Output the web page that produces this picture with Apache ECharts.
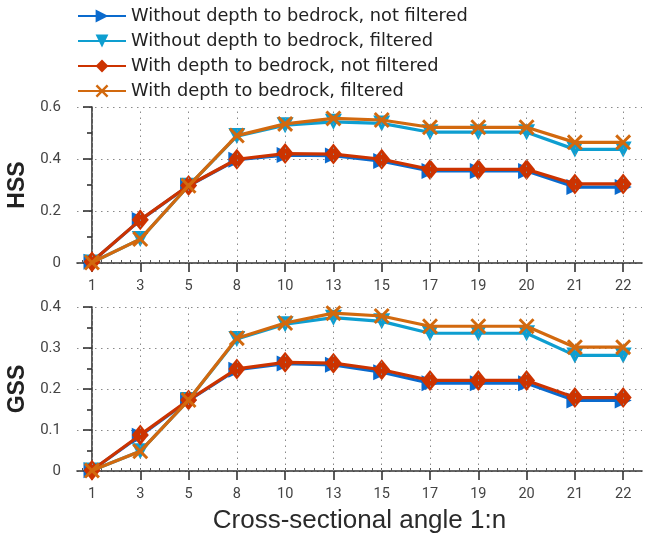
<!DOCTYPE html>
<html><head><meta charset="utf-8">
<script src="https://cdn.jsdelivr.net/npm/echarts@6/dist/echarts.min.js"></script>
<style>html,body{margin:0;padding:0;background:#fff}#c{width:645px;height:534px}</style>
</head><body><div id="c"></div>
<script>
const categories = ['1','3','5','8','10','13','15','17','19','20','21','22'];
const seriesNames = ['Without depth to bedrock, not filtered','Without depth to bedrock, filtered','With depth to bedrock, not filtered','With depth to bedrock, filtered'];
const hssWithoutNotFiltered = [0.005,0.165,0.297,0.397,0.415,0.413,0.392,0.354,0.354,0.354,0.292,0.292];
const hssWithoutFiltered    = [0.002,0.092,0.297,0.488,0.530,0.543,0.537,0.503,0.503,0.503,0.437,0.437];
const hssWithNotFiltered    = [0.005,0.166,0.298,0.399,0.421,0.419,0.399,0.360,0.360,0.360,0.304,0.304];
const hssWithFiltered       = [0.002,0.092,0.297,0.490,0.535,0.556,0.550,0.522,0.522,0.522,0.464,0.464];
const gssWithoutNotFiltered = [0.002,0.086,0.172,0.247,0.262,0.259,0.241,0.214,0.214,0.214,0.172,0.172];
const gssWithoutFiltered    = [0.001,0.048,0.173,0.322,0.358,0.374,0.365,0.336,0.336,0.336,0.282,0.282];
const gssWithNotFiltered    = [0.002,0.088,0.173,0.249,0.265,0.263,0.247,0.221,0.221,0.221,0.179,0.179];
const gssWithFiltered       = [0.001,0.048,0.173,0.324,0.361,0.385,0.378,0.353,0.353,0.353,0.302,0.302];

const colors = ['#0a6acd','#0e9ed0','#cc3300','#d2690e'];
const xPath = 'path://M0,1.3L1.3,0L5,3.7L8.7,0L10,1.3L6.3,5L10,8.7L8.7,10L5,6.3L1.3,10L0,8.7L3.7,5Z';
const symbols = [
  {symbol:'triangle', symbolRotate:-90, symbolSize:[16,17]},
  {symbol:'triangle', symbolRotate:180, symbolSize:[17,16]},
  {symbol:'diamond', symbolRotate:0, symbolSize:[17,21]},
  {symbol:xPath, symbolRotate:0, symbolSize:[16,16]}
];
const idx = categories.map((c,i)=>i);
const minorIdx = [];
for (let k=-1; k<=56; k++) minorIdx.push(k*0.2);
const tickFont = "'Roboto','Liberation Sans',sans-serif";
const axisColor = '#333';
const gridLine = {type:[1.5,4.5], color:'#8a8a8a', width:1};

function xAxisFor(g){
  return [{
    type:'value', gridIndex:g, min:-0.31, max:11.39, position:'bottom',
    axisLine:{show:true, onZero:false, lineStyle:{color:axisColor, width:1.6}},
    axisTick:{show:true, customValues:idx, length:9, lineStyle:{color:axisColor, width:1.6}},
    axisLabel:{customValues:idx, formatter:v=>categories[Math.round(v)], margin:16, color:'#444', fontSize:14.5, fontFamily:tickFont},
    splitLine:{show:false},
    name: g===1 ? 'Cross-sectional angle 1:n' : '',
    nameLocation:'middle', nameGap:37,
    nameTextStyle:{fontSize:26, color:'#2a2a2a', fontFamily:"'Liberation Sans',sans-serif"}
  },{
    type:'value', gridIndex:g, min:-0.31, max:11.39, position:'bottom',
    axisLine:{show:false}, axisLabel:{show:false}, splitLine:{show:false},
    axisTick:{show:true, inside:true, customValues:minorIdx.filter(v=>v>-0.31&&v<11.39), length:3, lineStyle:{color:'#555', width:1}}
  }];
}
function yAxisFor(g, max, interval, name){
  return {
    type:'value', gridIndex:g, min:0, max:max, interval:interval,
    axisLine:{show:true, lineStyle:{color:axisColor, width:1.6}},
    axisTick:{show:true, length:9, lineStyle:{color:axisColor, width:1.6}},
    minorTick:{show:true, splitNumber:2, length:5, lineStyle:{color:axisColor, width:1.6}},
    axisLabel:{margin:16, color:'#444', fontSize:15, fontFamily:tickFont},
    splitLine:{show:true, lineStyle:gridLine},
    name:name, nameLocation:'middle', nameGap:48,
    nameTextStyle:{fontSize:23, fontWeight:'bold', color:'#222', fontFamily:"'Liberation Sans',sans-serif"}
  };
}
const hssData = [hssWithoutNotFiltered, hssWithoutFiltered, hssWithNotFiltered, hssWithFiltered];
const gssData = [gssWithoutNotFiltered, gssWithoutFiltered, gssWithNotFiltered, gssWithFiltered];
const series = [];
[hssData, gssData].forEach((set, g)=>{
  set.forEach((vals, s)=>{
    const ser = Object.assign({
      type:'line', name:seriesNames[s], xAxisIndex:g*2, yAxisIndex:g,
      data: vals.map((v,i)=>[i,v]),
      z: 2+s, color:colors[s],
      lineStyle:{width:3.2, color:colors[s]},
      itemStyle:{color:colors[s]},
      showAllSymbol:true, animation:false, silent:true
    }, symbols[s]);
    if (s===0) {
      ser.markLine = {
        silent:true, animation:false, symbol:['none','none'], label:{show:false},
        lineStyle:gridLine, emphasis:{disabled:true},
        data: idx.map(i=>({xAxis:i}))
      };
    }
    series.push(ser);
  });
});
const chart = echarts.init(document.getElementById('c'), null, {renderer:'canvas'});
chart.setOption({
  animation:false,
  legend:{
    orient:'vertical', left:77, top:7, padding:0, itemWidth:48, itemHeight:16, itemGap:7,
    data:seriesNames,
    textStyle:{fontSize:17.8, color:'#222', fontFamily:"'DejaVu Sans',sans-serif", lineHeight:18}
  },
  grid:[
    {left:77, right:3, top:107, height:156, containLabel:false, outerBoundsMode:'none'},
    {left:77, right:3, top:307, height:164, containLabel:false, outerBoundsMode:'none'}
  ],
  xAxis:[...xAxisFor(0), ...xAxisFor(1)],
  yAxis:[yAxisFor(0,0.6,0.2,'HSS'), yAxisFor(1,0.4,0.1,'GSS')],
  series:series
});
</script></body></html>
